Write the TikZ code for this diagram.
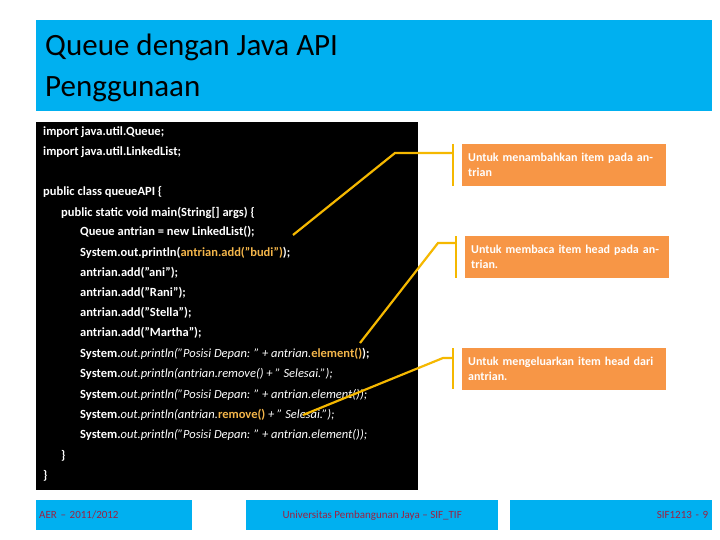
\documentclass[tikz,border=0pt]{standalone}
\usepackage{fontspec}
\setmainfont{Carlito}
\definecolor{titlecyan}{HTML}{00B0F0}
\definecolor{calloutorange}{HTML}{F79646}
\definecolor{leaderyellow}{HTML}{F5B800}
\definecolor{hilite}{HTML}{F3B54A}
\definecolor{footred}{HTML}{9B2242}
\newcommand{\hl}[1]{\textcolor{hilite}{#1}}

\begin{document}
\begin{tikzpicture}
[
x=1pt,y=-1pt,
codeline/.style={anchor=base west,inner sep=0pt,text=white,font=\fontsize{12.5}{14}\selectfont\bfseries},
callout/.style={anchor=north west,fill=calloutorange,text=white,minimum width=204pt,minimum height=42pt,
            text width=192pt,align=left,inner xsep=6pt,inner ysep=4pt,font=\fontsize{12}{15}\selectfont\bfseries},
leader/.style={draw=leaderyellow,line width=2.2pt},
footbox/.style={anchor=north west,fill=titlecyan,minimum height=30pt,inner sep=0pt,text=footred,font=\fontsize{11}{13}\selectfont},
]
\useasboundingbox (0,0) rectangle (720,540);
\fill[white] (0,0) rectangle (720,540);

% title
\fill[titlecyan] (36,20) rectangle (712,111);
\node[anchor=base west,inner sep=0pt,font=\fontsize{31}{36}\selectfont] (title1) at (45,56) {Queue dengan Java API};
\node[anchor=base west,inner sep=0pt,font=\fontsize{31}{36}\selectfont] (title2) at (45,97) {Penggunaan};

% code
\fill[black] (36,122) rectangle (418,490);
\node[codeline] (l1) at (43,136) {import java.util.Queue;};
\node[codeline] (l2) at (43,156) {import java.util.LinkedList;};
\node[codeline] (l3) at (43,196) {public class queueAPI \{};
\node[codeline] (l4) at (61,216) {public static void main(String[] args) \{};
\node[codeline] (l5) at (80,236) {Queue antrian = new LinkedList();};
\node[codeline] (l6) at (80,256) {System.out.println(\hl{antrian.add("budi")});};
\node[codeline] (l7) at (80,276) {antrian.add("ani");};
\node[codeline] (l8) at (80,296) {antrian.add("Rani");};
\node[codeline] (l9) at (80,316) {antrian.add("Stella");};
\node[codeline] (l10) at (80,336) {antrian.add("Martha");};
\node[codeline] (l11) at (80,357) {System.\textmd{\itshape out.println("Posisi Depan: " + antrian.}\hl{element()});};
\node[codeline] (l12) at (80,377) {System.\textmd{\itshape out.println(antrian.remove() + " Selesai.");}};
\node[codeline] (l13) at (80,398) {System.\textmd{\itshape out.println("Posisi Depan: " + antrian.element());}};
\node[codeline] (l14) at (80,418) {System.\textmd{\itshape out.println(antrian.}\hl{remove()}\textmd{\itshape\ + " Selesai.");}};
\node[codeline] (l15) at (80,438) {System.\textmd{\itshape out.println("Posisi Depan: " + antrian.element());}};
\node[codeline] (l16) at (61,459) {\}};
\node[codeline] (l17) at (43,479) {\}};

% callouts
\node[callout] (add) at (462,144) {Untuk menambahkan item pada antrian};
\node[callout] (peek) at (465,236) {Untuk membaca item head pada antrian.};
\node[callout] (poll) at (462,348) {Untuk mengeluarkan item head dari antrian.};

\coordinate (addbar) at (453,153);
\coordinate (peekbar) at (456,243);
\coordinate (pollbar) at (453,358);
\coordinate (addend) at (293,235);
\coordinate (peekend) at (360,343);
\coordinate (pollend) at (303,415);

\draw[leader] (453,144) -- (453,186);
\draw[leader] (456,236) -- (456,278);
\draw[leader] (453,348) -- (453,389);
\draw[leader] (addbar) -- (395,153) -- (addend);
\draw[leader] (peekbar) -- (438,243) -- (peekend);
\draw[leader] (pollbar) -- (443,358) -- (pollend);

% footer
\node[footbox,minimum width=156pt,text width=150pt,align=left] (foot1) at (36,500) {AER – 2011/2012};
\node[footbox,minimum width=252pt,align=center] (foot2) at (246,500) {Universitas Pembangunan Jaya – SIF\_TIF};
\node[footbox,minimum width=202pt,text width=194pt,align=right] (foot3) at (510,500) {SIF1213 - 9};
\end{tikzpicture}
\end{document}
